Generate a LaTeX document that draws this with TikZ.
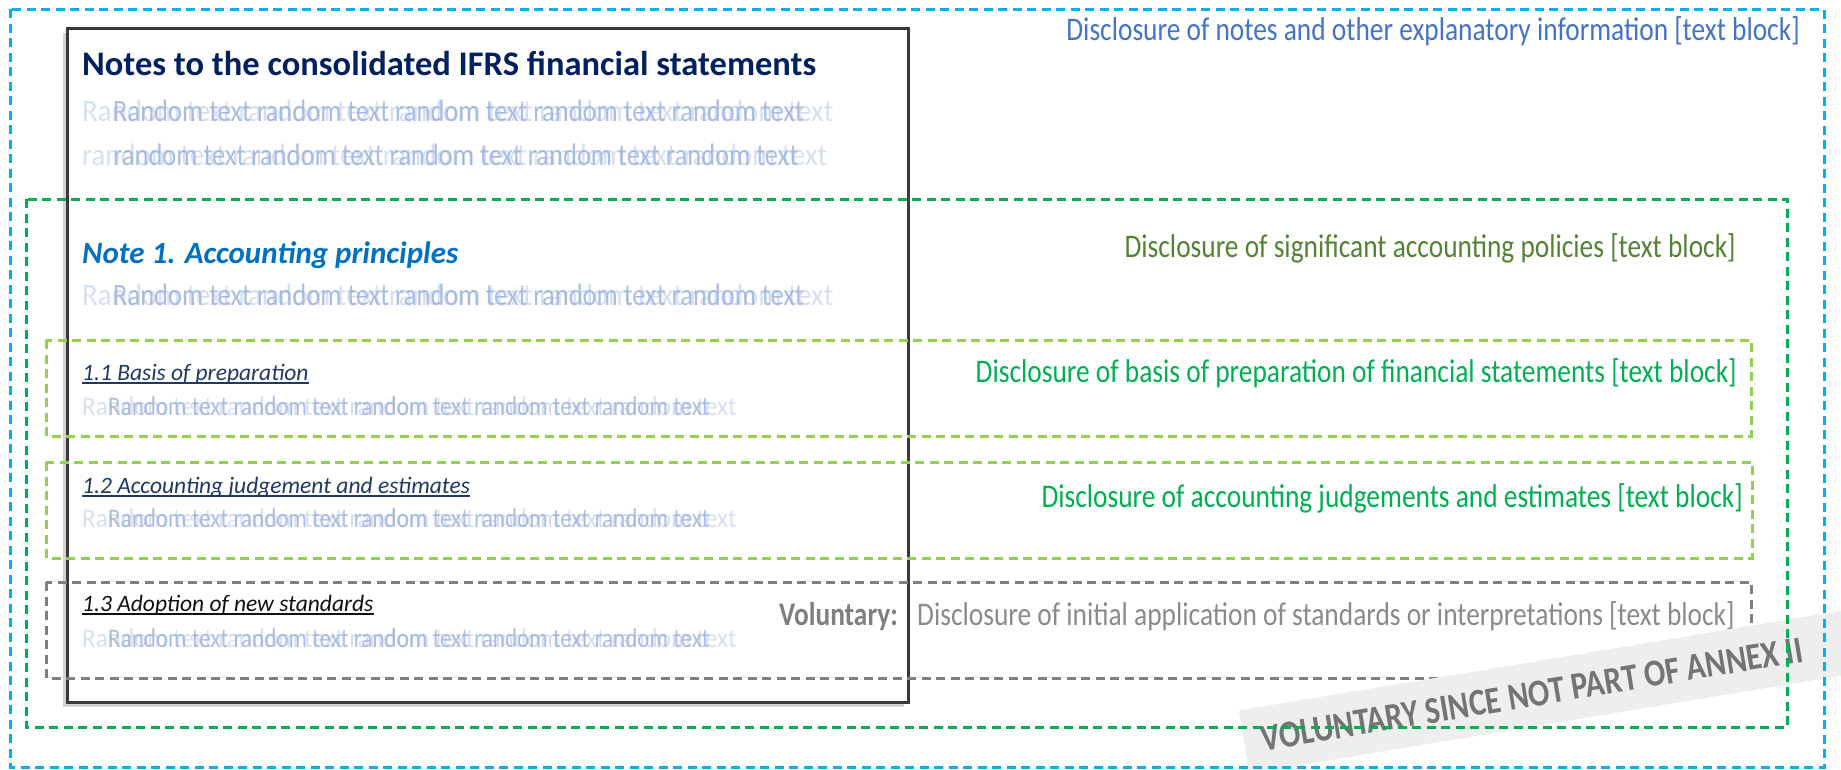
\documentclass[tikz,border=0pt]{standalone}
\usepackage{fontspec}
\setmainfont{Carlito}
\newfontfamily\tagfont[FakeStretch=0.83]{Carlito}
\newfontfamily\ghostnfont[FakeStretch=0.855]{Carlito}
\newfontfamily\ghostwfont[FakeStretch=0.93]{Carlito}
\usetikzlibrary{positioning,shadows}
\definecolor{cblue}{HTML}{00B0F0}
\definecolor{cgreen}{HTML}{00B050}
\definecolor{clime}{HTML}{92D050}
\definecolor{cgray}{HTML}{7F7F7F}
\definecolor{cbox}{HTML}{3A3A3A}
\definecolor{ctagblue}{HTML}{4472C4}
\definecolor{ctagolive}{HTML}{548235}
\definecolor{ctaggray}{HTML}{8A8A8A}
\definecolor{ctitle}{HTML}{002060}
\definecolor{cnote}{HTML}{0070C0}
\definecolor{csub}{HTML}{1F3864}
\definecolor{csubdark}{HTML}{101010}
\definecolor{cghostlt}{HTML}{D6E0F2}
\definecolor{cghostdk}{HTML}{9CB2DD}
\definecolor{cband}{HTML}{EEEEEE}
\definecolor{cbandtxt}{HTML}{747474}

\begin{document}
\begin{tikzpicture}[x=1pt,y=-1pt,every node/.style={inner sep=0pt},
	zone/.style={line width=3pt,dash pattern=on 9pt off 5.5pt},
	notesbox/.style={draw=cbox,line width=2.6pt,fill=white,
		drop shadow={shadow xshift=-4pt,shadow yshift=-5pt,opacity=.35}},
	tag/.style={font=\tagfont\fontsize{33}{36}\selectfont,anchor=base east},
	head/.style={font=\bfseries\fontsize{34.5}{40}\selectfont,text=ctitle},
	note/.style={font=\bfseries\itshape\fontsize{31}{36}\selectfont,text=cnote},
	sub/.style={font=\itshape\fontsize{23.5}{28}\selectfont,text=csub},
	ghostw/.style={font=\ghostwfont\fontsize{#1}{#1}\selectfont,text=cghostlt},
	ghostn/.style={font=\ghostnfont\fontsize{#1}{#1}\selectfont,text=cghostdk,opacity=.85},
	uline/.style={line width=1.4pt},
	bandtext/.style={text=cbandtxt,font=\tagfont\bfseries\fontsize{38}{40}\selectfont,transform shape}]
	\useasboundingbox (0,0) rectangle (1841,769);
	\clip (0,0) rectangle (1841,769);
	% the notes page
	\node[notesbox,minimum width=841pt,minimum height=674pt,anchor=north west] (notes) at (66,27) {};
	\draw[zone,cgray] (46,582) rectangle (1751,678);
	\draw[zone,clime] (46,340) rectangle (1751,436);
	\draw[zone,clime] (46,462) rectangle (1752,558);
	\node[head,anchor=base west] (title) at ([shift={(16,48)}]notes.north west) {Notes to the consolidated IFRS financial statements};
	\node[ghostw=31,below=46pt of title.base west,anchor=base west] (g1w) {Random text random text random text random text random text};
	\node[ghostn=31,right=31pt of g1w.base west,anchor=base west] (g1n) {Random text random text random text random text random text};
	\node[ghostw=31,below=44pt of g1w.base west,anchor=base west] (g2w) {random text random text random text random text random text};
	\node[ghostn=31,right=31pt of g2w.base west,anchor=base west] (g2n) {random text random text random text random text random text};
	\node[note,below=98pt of g2w.base west,anchor=base west] (note1) {Note 1. Accounting principles};
	\node[ghostw=31,below=42pt of note1.base west,anchor=base west] (g3w) {Random text random text random text random text random text};
	\node[ghostn=31,right=31pt of g3w.base west,anchor=base west] (g3n) {Random text random text random text random text random text};
	% sub sections
	\node[sub,below=75pt of g3w.base west,anchor=base west] (basis) {1.1 Basis of preparation};
	\node[ghostw=27,below=35pt of basis.base west,anchor=base west] (g4w) {Random text random text random text random text random text};
	\node[ghostn=27,right=26pt of g4w.base west,anchor=base west] (g4n) {Random text random text random text random text random text};
	\node[sub,below=78pt of g4w.base west,anchor=base west] (judge) {1.2 Accounting judgement and estimates};
	\node[ghostw=27,below=34pt of judge.base west,anchor=base west] (g5w) {Random text random text random text random text random text};
	\node[ghostn=27,right=26pt of g5w.base west,anchor=base west] (g5n) {Random text random text random text random text random text};
	\node[sub,text=csubdark,below=84pt of g5w.base west,anchor=base west] (adopt) {1.3 Adoption of new standards};
	\node[ghostw=27,below=36pt of adopt.base west,anchor=base west] (g6w) {Random text random text random text random text random text};
	\node[ghostn=27,right=26pt of g6w.base west,anchor=base west] (g6n) {Random text random text random text random text random text};
	\draw[uline,csub] ([yshift=-3pt]basis.base west) -- ([yshift=-3pt]basis.base east);
	\draw[uline,csub] ([yshift=-3pt]judge.base west) -- ([yshift=-3pt]judge.base east);
	\draw[uline,csubdark] ([yshift=-3pt]adopt.base west) -- ([yshift=-3pt]adopt.base east);
	% taxonomy tags
	\node[tag,text=ctagblue] (notestag) at (1800,40) {Disclosure of notes and other explanatory information [text block]};
	\node[tag,text=ctagolive] (policytag) at (1736,257) {Disclosure of significant accounting policies [text block]};
	\node[tag,text=cgreen] (basistag) at (1737,382) {Disclosure of basis of preparation of financial statements [text block]};
	\node[tag,text=cgreen] (judgetag) at (1743,507) {Disclosure of accounting judgements and estimates [text block]};
	\node[tag,text=ctaggray] (adopttag) at (1735,625) {Disclosure of initial application of standards or interpretations [text block]};
	\node[tag,text=cgray,font=\tagfont\bfseries\fontsize{33}{36}\selectfont,left=19pt of adopttag.base west,anchor=base east] (vol) {Voluntary:};
	% the banner
	\begin{scope}[shift={(1244,742)},rotate=9.4]
		\fill[cband] (0,-32) rectangle (700,32);
		\node[bandtext,anchor=west] (annex) at (18,0) {VOLUNTARY SINCE NOT PART OF ANNEX II};
	\end{scope}
	\draw[zone,cgreen] (26,199) rectangle (1787,727);
	\draw[zone,cblue] (10,9) rectangle (1824,767);
\end{tikzpicture}
\end{document}
